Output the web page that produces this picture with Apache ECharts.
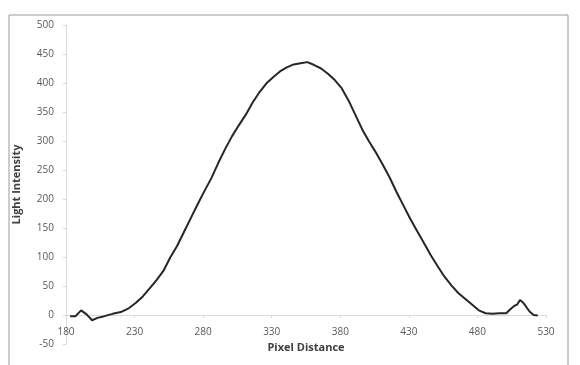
<!DOCTYPE html>
<html>
<head>
<meta charset="utf-8">
<script src="https://cdn.jsdelivr.net/npm/echarts@6/dist/echarts.min.js"></script>
<style>
  html, body { margin: 0; padding: 0; background: #fff; }
  #chart { width: 580px; height: 365px; }
</style>
</head>
<body>
<div id="chart"></div>
<script>
// pixel distance (x) and light intensity (y)
var pixelX = [183,187,191,195,199,203,208,214,220,226,231,236,241,246,251,256,261,266,271,276,
    281,286,291,296,301,306,311,316,321,326,331,336,341,346,351,356,361,366,371,376,
    381,386,391,396,401,406,411,416,421,426,431,436,441,446,451,456,461,466,471,476,
    481,486,491,496,501,504,507,509,511,513,515,518,521,524];
var intensity = [-2,-2,8,1,-9,-5,-2,2,5,12,21,32,46,60,76,99,119,143,167,191,
    214,236,262,286,308,327,345,366,384,399,410,420,427,432,434,436,431,425,416,405,
    391,370,345,320,299,280,259,237,212,189,166,145,124,103,84,66,51,38,28,18,
    8,3,2,3,3,10,16,18,26,22,16,6,0,-1];

var xTicks = [180, 530, 50];   // min, max, step
var yTicks = [-50, 500, 50];

var chart = echarts.init(document.getElementById('chart'));

var seriesData = [];
pixelX.forEach(function (v, i) {
    seriesData.push([v, intensity[i]]);
});

var labelStyle = {
    color: '#595959',
    fontSize: 10,
    fontFamily: 'Open Sans'
};

var option = {
    animation: false,
    backgroundColor: '#fff',
    graphic: [{
        type: 'rect',
        shape: { x: 9, y: 15, width: 559, height: 360 },
        style: { fill: 'none', stroke: '#9a9a9a', lineWidth: 1 }
    }],
    grid: {
        left: 66,
        right: 34,
        top: 25,
        bottom: 21,
        containLabel: false,
        outerBoundsMode: 'none'
    },
    xAxis: {
        type: 'value',
        min: xTicks[0],
        max: xTicks[1],
        interval: xTicks[2],
        name: 'Pixel Distance',
        nameLocation: 'middle',
        nameGap: -3,
        nameTextStyle: { color: '#404040', fontSize: 11, fontWeight: 'bold', fontFamily: 'Open Sans' },
        axisLine: { onZero: true, lineStyle: { color: '#d9d9d9' } },
        axisTick: { show: true, length: 3, lineStyle: { color: '#d9d9d9' } },
        axisLabel: Object.assign({ margin: -17 }, labelStyle),
        splitLine: { show: false }
    },
    yAxis: {
        type: 'value',
        min: yTicks[0],
        max: yTicks[1],
        interval: yTicks[2],
        name: 'Light Intensity',
        nameLocation: 'middle',
        nameGap: 44,
        nameTextStyle: { color: '#404040', fontSize: 11, fontWeight: 'bold', fontFamily: 'Open Sans' },
        axisLine: { show: true, lineStyle: { color: '#d9d9d9' } },
        axisTick: { show: true, length: 3, lineStyle: { color: '#d9d9d9' } },
        axisLabel: Object.assign({ margin: 12 }, labelStyle),
        splitLine: { show: false }
    },
    series: [{
        type: 'line',
        data: seriesData,
        showSymbol: false,
        smooth: false,
        lineStyle: { color: '#262626', width: 2 }
    }]
};

chart.setOption(option);
</script>
</body>
</html>
